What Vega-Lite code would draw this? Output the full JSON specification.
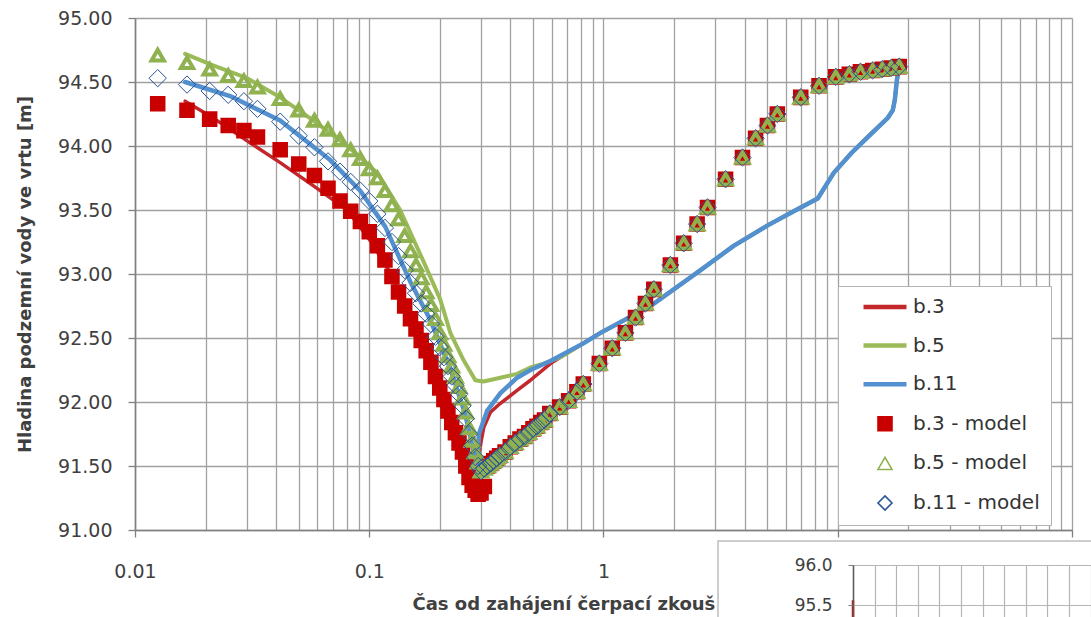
{
"$schema": "https://vega.github.io/schema/vega-lite/v6.json",
"width": 937, "height": 512,
"autosize": {"type": "none"},
"padding": {"left": 135, "top": 18, "right": 19, "bottom": 87},
"background": "white",
"config": {
 "view": {"stroke": null},
 "font": "DejaVu Sans",
 "legend": {"orient": "none", "legendX": 703, "legendY": 268, "padding": 11, "rowPadding": 18.6, "symbolOffset": 26, "labelOffset": 18, "symbolSize": 196, "labelFont": "DejaVu Sans", "labelFontSize": 20, "labelColor": "#333333", "strokeColor": "#b3b3b3", "fillColor": "white", "labelLimit": 300, "cornerRadius": 0}
},
"datasets": {
 "lines": [
  {"s":"b.3","t":0.01637,"v":94.35},{"s":"b.3","t":0.02154,"v":94.22},{"s":"b.3","t":0.03011,"v":94.04},{"s":"b.3","t":0.04166,"v":93.87},{"s":"b.3","t":0.05763,"v":93.69},{"s":"b.3","t":0.08054,"v":93.5},{"s":"b.3","t":0.101,"v":93.26},{"s":"b.3","t":0.1229,"v":93.01},{"s":"b.3","t":0.1425,"v":92.75},{"s":"b.3","t":0.1652,"v":92.51},{"s":"b.3","t":0.2011,"v":92.12},{"s":"b.3","t":0.2331,"v":91.79},{"s":"b.3","t":0.2616,"v":91.47},{"s":"b.3","t":0.2756,"v":91.25},{"s":"b.3","t":0.2867,"v":91.24},{"s":"b.3","t":0.2953,"v":91.62},{"s":"b.3","t":0.308,"v":91.8},{"s":"b.3","t":0.329,"v":91.92},{"s":"b.3","t":0.363,"v":91.99},{"s":"b.3","t":0.4279,"v":92.09},{"s":"b.3","t":0.4875,"v":92.17},{"s":"b.3","t":0.5935,"v":92.3},{"s":"b.3","t":0.6548,"v":92.35},{"s":"b.3","t":0.824,"v":92.46},
  {"s":"b.3","t":0.971,"v":92.54},{"s":"b.3","t":1.588,"v":92.75},{"s":"b.3","t":2.597,"v":93.03},{"s":"b.3","t":3.594,"v":93.22},{"s":"b.3","t":5.022,"v":93.38},{"s":"b.3","t":6.949,"v":93.52},{"s":"b.3","t":8.213,"v":93.59},{"s":"b.3","t":9.614,"v":93.79},{"s":"b.3","t":11.37,"v":93.94},{"s":"b.3","t":13.43,"v":94.07},{"s":"b.3","t":16.36,"v":94.22},{"s":"b.3","t":17.18,"v":94.28},{"s":"b.3","t":17.52,"v":94.36},{"s":"b.3","t":17.87,"v":94.51},{"s":"b.3","t":18.23,"v":94.61},
  {"s":"b.5","t":0.01637,"v":94.72},{"s":"b.5","t":0.02154,"v":94.63},{"s":"b.5","t":0.03011,"v":94.53},{"s":"b.5","t":0.04166,"v":94.38},{"s":"b.5","t":0.05763,"v":94.2},{"s":"b.5","t":0.08054,"v":94.0},{"s":"b.5","t":0.1082,"v":93.79},{"s":"b.5","t":0.1355,"v":93.5},{"s":"b.5","t":0.1702,"v":93.1},{"s":"b.5","t":0.2011,"v":92.8},{"s":"b.5","t":0.2219,"v":92.54},{"s":"b.5","t":0.2522,"v":92.33},{"s":"b.5","t":0.2838,"v":92.17},{"s":"b.5","t":0.3071,"v":92.16},{"s":"b.5","t":0.363,"v":92.19},{"s":"b.5","t":0.4279,"v":92.22},{"s":"b.5","t":0.4875,"v":92.27},{"s":"b.5","t":0.5557,"v":92.3},{"s":"b.5","t":0.6548,"v":92.35},{"s":"b.5","t":0.824,"v":92.46},
  {"s":"b.5","t":0.971,"v":92.54},{"s":"b.5","t":1.588,"v":92.75},{"s":"b.5","t":2.597,"v":93.03},{"s":"b.5","t":3.594,"v":93.22},{"s":"b.5","t":5.022,"v":93.38},{"s":"b.5","t":6.949,"v":93.52},{"s":"b.5","t":8.213,"v":93.59},{"s":"b.5","t":9.614,"v":93.79},{"s":"b.5","t":11.37,"v":93.94},{"s":"b.5","t":13.43,"v":94.07},{"s":"b.5","t":16.36,"v":94.22},{"s":"b.5","t":17.18,"v":94.28},{"s":"b.5","t":17.52,"v":94.36},{"s":"b.5","t":17.87,"v":94.51},{"s":"b.5","t":18.23,"v":94.61},
  {"s":"b.11","t":0.01637,"v":94.5},{"s":"b.11","t":0.02547,"v":94.39},{"s":"b.11","t":0.04166,"v":94.2},{"s":"b.11","t":0.06813,"v":93.89},{"s":"b.11","t":0.09152,"v":93.65},{"s":"b.11","t":0.117,"v":93.37},{"s":"b.11","t":0.1497,"v":92.94},{"s":"b.11","t":0.1823,"v":92.64},{"s":"b.11","t":0.2219,"v":92.26},{"s":"b.11","t":0.2572,"v":91.9},{"s":"b.11","t":0.2782,"v":91.62},{"s":"b.11","t":0.2894,"v":91.47},{"s":"b.11","t":0.2938,"v":91.75},{"s":"b.11","t":0.3184,"v":91.93},{"s":"b.11","t":0.363,"v":92.07},{"s":"b.11","t":0.4279,"v":92.19},{"s":"b.11","t":0.4875,"v":92.25},{"s":"b.11","t":0.5935,"v":92.32},{"s":"b.11","t":0.824,"v":92.46},
  {"s":"b.11","t":0.971,"v":92.54},{"s":"b.11","t":1.588,"v":92.75},{"s":"b.11","t":2.597,"v":93.03},{"s":"b.11","t":3.594,"v":93.22},{"s":"b.11","t":5.022,"v":93.38},{"s":"b.11","t":6.949,"v":93.52},{"s":"b.11","t":8.213,"v":93.59},{"s":"b.11","t":9.614,"v":93.79},{"s":"b.11","t":11.37,"v":93.94},{"s":"b.11","t":13.43,"v":94.07},{"s":"b.11","t":16.36,"v":94.22},{"s":"b.11","t":17.18,"v":94.28},{"s":"b.11","t":17.52,"v":94.36},{"s":"b.11","t":17.87,"v":94.51},{"s":"b.11","t":18.23,"v":94.61}
 ],
 "model": [
  {"s":"b.3 - model","t":0.0125,"v":94.33},{"s":"b.3 - model","t":0.01667,"v":94.28},{"s":"b.3 - model","t":0.02083,"v":94.21},{"s":"b.3 - model","t":0.025,"v":94.16},{"s":"b.3 - model","t":0.02917,"v":94.12},{"s":"b.3 - model","t":0.03333,"v":94.07},{"s":"b.3 - model","t":0.04167,"v":93.97},{"s":"b.3 - model","t":0.05,"v":93.86},{"s":"b.3 - model","t":0.05833,"v":93.77},{"s":"b.3 - model","t":0.06667,"v":93.67},{"s":"b.3 - model","t":0.075,"v":93.57},{"s":"b.3 - model","t":0.08333,"v":93.49},{"s":"b.3 - model","t":0.09167,"v":93.41},{"s":"b.3 - model","t":0.1,"v":93.33},{"s":"b.3 - model","t":0.10833,"v":93.22},{"s":"b.3 - model","t":0.11667,"v":93.11},{"s":"b.3 - model","t":0.125,"v":92.98},{"s":"b.3 - model","t":0.13333,"v":92.86},{"s":"b.3 - model","t":0.14167,"v":92.75},{"s":"b.3 - model","t":0.15,"v":92.65},{"s":"b.3 - model","t":0.15833,"v":92.57},{"s":"b.3 - model","t":0.16667,"v":92.48},{"s":"b.3 - model","t":0.175,"v":92.4},{"s":"b.3 - model","t":0.18333,"v":92.31},{"s":"b.3 - model","t":0.19167,"v":92.2},{"s":"b.3 - model","t":0.2,"v":92.11},{"s":"b.3 - model","t":0.20833,"v":92.02},{"s":"b.3 - model","t":0.21667,"v":91.93},{"s":"b.3 - model","t":0.225,"v":91.84},{"s":"b.3 - model","t":0.23333,"v":91.76},{"s":"b.3 - model","t":0.24167,"v":91.68},{"s":"b.3 - model","t":0.25,"v":91.61},{"s":"b.3 - model","t":0.25833,"v":91.5},{"s":"b.3 - model","t":0.26667,"v":91.41},{"s":"b.3 - model","t":0.275,"v":91.35},{"s":"b.3 - model","t":0.28333,"v":91.31},{"s":"b.3 - model","t":0.29167,"v":91.28},
  {"s":"b.3 - model","t":0.3,"v":91.29},{"s":"b.3 - model","t":0.31,"v":91.34},{"s":"b.3 - model","t":0.32,"v":91.5},{"s":"b.3 - model","t":0.33,"v":91.52},{"s":"b.3 - model","t":0.34,"v":91.54},{"s":"b.3 - model","t":0.35,"v":91.56},{"s":"b.3 - model","t":0.36,"v":91.58},{"s":"b.3 - model","t":0.38,"v":91.61},{"s":"b.3 - model","t":0.4,"v":91.65},{"s":"b.3 - model","t":0.42,"v":91.68},{"s":"b.3 - model","t":0.44,"v":91.71},{"s":"b.3 - model","t":0.46,"v":91.73},{"s":"b.3 - model","t":0.48,"v":91.76},{"s":"b.3 - model","t":0.5,"v":91.79},{"s":"b.3 - model","t":0.52,"v":91.81},{"s":"b.3 - model","t":0.54,"v":91.84},{"s":"b.3 - model","t":0.56,"v":91.86},{"s":"b.3 - model","t":0.59,"v":91.91},{"s":"b.3 - model","t":0.65,"v":91.96},{"s":"b.3 - model","t":0.71,"v":92.01},{"s":"b.3 - model","t":0.77,"v":92.08},{"s":"b.3 - model","t":0.82,"v":92.14},{"s":"b.3 - model","t":0.96,"v":92.3},{"s":"b.3 - model","t":1.09,"v":92.42},{"s":"b.3 - model","t":1.24,"v":92.54},{"s":"b.3 - model","t":1.37,"v":92.66},{"s":"b.3 - model","t":1.51,"v":92.77},{"s":"b.3 - model","t":1.64,"v":92.88},{"s":"b.3 - model","t":1.93,"v":93.07},{"s":"b.3 - model","t":2.2,"v":93.24},{"s":"b.3 - model","t":2.51,"v":93.39},{"s":"b.3 - model","t":2.78,"v":93.52},{"s":"b.3 - model","t":3.32,"v":93.74},{"s":"b.3 - model","t":3.92,"v":93.91},{"s":"b.3 - model","t":4.46,"v":94.06},{"s":"b.3 - model","t":5.01,"v":94.16},{"s":"b.3 - model","t":5.52,"v":94.25},{"s":"b.3 - model","t":6.95,"v":94.38},{"s":"b.3 - model","t":8.32,"v":94.47},{"s":"b.3 - model","t":9.81,"v":94.54},{"s":"b.3 - model","t":11.2,"v":94.56},{"s":"b.3 - model","t":12.5,"v":94.58},{"s":"b.3 - model","t":14.1,"v":94.59},{"s":"b.3 - model","t":15.5,"v":94.6},{"s":"b.3 - model","t":16.9,"v":94.61},{"s":"b.3 - model","t":18.3,"v":94.62},
  {"s":"b.5 - model","t":0.0125,"v":94.71},{"s":"b.5 - model","t":0.01667,"v":94.65},{"s":"b.5 - model","t":0.02083,"v":94.6},{"s":"b.5 - model","t":0.025,"v":94.55},{"s":"b.5 - model","t":0.02917,"v":94.51},{"s":"b.5 - model","t":0.03333,"v":94.46},{"s":"b.5 - model","t":0.04167,"v":94.37},{"s":"b.5 - model","t":0.05,"v":94.28},{"s":"b.5 - model","t":0.05833,"v":94.2},{"s":"b.5 - model","t":0.06667,"v":94.13},{"s":"b.5 - model","t":0.075,"v":94.05},{"s":"b.5 - model","t":0.08333,"v":93.97},{"s":"b.5 - model","t":0.09167,"v":93.9},{"s":"b.5 - model","t":0.1,"v":93.82},{"s":"b.5 - model","t":0.10833,"v":93.75},{"s":"b.5 - model","t":0.11667,"v":93.65},{"s":"b.5 - model","t":0.125,"v":93.54},{"s":"b.5 - model","t":0.13333,"v":93.43},{"s":"b.5 - model","t":0.14167,"v":93.3},{"s":"b.5 - model","t":0.15,"v":93.18},{"s":"b.5 - model","t":0.15833,"v":93.07},{"s":"b.5 - model","t":0.16667,"v":92.97},{"s":"b.5 - model","t":0.175,"v":92.86},{"s":"b.5 - model","t":0.18333,"v":92.76},{"s":"b.5 - model","t":0.19167,"v":92.65},{"s":"b.5 - model","t":0.2,"v":92.54},{"s":"b.5 - model","t":0.20833,"v":92.45},{"s":"b.5 - model","t":0.21667,"v":92.36},{"s":"b.5 - model","t":0.225,"v":92.28},{"s":"b.5 - model","t":0.23333,"v":92.2},{"s":"b.5 - model","t":0.24167,"v":92.12},{"s":"b.5 - model","t":0.25,"v":92.03},{"s":"b.5 - model","t":0.25833,"v":91.92},{"s":"b.5 - model","t":0.26667,"v":91.8},{"s":"b.5 - model","t":0.275,"v":91.7},{"s":"b.5 - model","t":0.28333,"v":91.61},{"s":"b.5 - model","t":0.29167,"v":91.53},
  {"s":"b.5 - model","t":0.3,"v":91.46},{"s":"b.5 - model","t":0.31,"v":91.48},{"s":"b.5 - model","t":0.32,"v":91.5},{"s":"b.5 - model","t":0.33,"v":91.52},{"s":"b.5 - model","t":0.34,"v":91.54},{"s":"b.5 - model","t":0.35,"v":91.56},{"s":"b.5 - model","t":0.36,"v":91.58},{"s":"b.5 - model","t":0.38,"v":91.61},{"s":"b.5 - model","t":0.4,"v":91.65},{"s":"b.5 - model","t":0.42,"v":91.68},{"s":"b.5 - model","t":0.44,"v":91.71},{"s":"b.5 - model","t":0.46,"v":91.73},{"s":"b.5 - model","t":0.48,"v":91.76},{"s":"b.5 - model","t":0.5,"v":91.79},{"s":"b.5 - model","t":0.52,"v":91.81},{"s":"b.5 - model","t":0.54,"v":91.84},{"s":"b.5 - model","t":0.56,"v":91.86},{"s":"b.5 - model","t":0.59,"v":91.91},{"s":"b.5 - model","t":0.65,"v":91.96},{"s":"b.5 - model","t":0.71,"v":92.01},{"s":"b.5 - model","t":0.77,"v":92.08},{"s":"b.5 - model","t":0.82,"v":92.14},{"s":"b.5 - model","t":0.96,"v":92.3},{"s":"b.5 - model","t":1.09,"v":92.42},{"s":"b.5 - model","t":1.24,"v":92.54},{"s":"b.5 - model","t":1.37,"v":92.66},{"s":"b.5 - model","t":1.51,"v":92.77},{"s":"b.5 - model","t":1.64,"v":92.88},{"s":"b.5 - model","t":1.93,"v":93.07},{"s":"b.5 - model","t":2.2,"v":93.24},{"s":"b.5 - model","t":2.51,"v":93.39},{"s":"b.5 - model","t":2.78,"v":93.52},{"s":"b.5 - model","t":3.32,"v":93.74},{"s":"b.5 - model","t":3.92,"v":93.91},{"s":"b.5 - model","t":4.46,"v":94.06},{"s":"b.5 - model","t":5.01,"v":94.16},{"s":"b.5 - model","t":5.52,"v":94.25},{"s":"b.5 - model","t":6.95,"v":94.38},{"s":"b.5 - model","t":8.32,"v":94.47},{"s":"b.5 - model","t":9.81,"v":94.54},{"s":"b.5 - model","t":11.2,"v":94.56},{"s":"b.5 - model","t":12.5,"v":94.58},{"s":"b.5 - model","t":14.1,"v":94.59},{"s":"b.5 - model","t":15.5,"v":94.6},{"s":"b.5 - model","t":16.9,"v":94.61},{"s":"b.5 - model","t":18.3,"v":94.62},
  {"s":"b.11 - model","t":0.0125,"v":94.53},{"s":"b.11 - model","t":0.01667,"v":94.48},{"s":"b.11 - model","t":0.02083,"v":94.43},{"s":"b.11 - model","t":0.025,"v":94.4},{"s":"b.11 - model","t":0.02917,"v":94.35},{"s":"b.11 - model","t":0.03333,"v":94.29},{"s":"b.11 - model","t":0.04167,"v":94.19},{"s":"b.11 - model","t":0.05,"v":94.08},{"s":"b.11 - model","t":0.05833,"v":93.99},{"s":"b.11 - model","t":0.06667,"v":93.88},{"s":"b.11 - model","t":0.075,"v":93.8},{"s":"b.11 - model","t":0.08333,"v":93.72},{"s":"b.11 - model","t":0.09167,"v":93.65},{"s":"b.11 - model","t":0.1,"v":93.57},{"s":"b.11 - model","t":0.10833,"v":93.47},{"s":"b.11 - model","t":0.11667,"v":93.36},{"s":"b.11 - model","t":0.125,"v":93.25},{"s":"b.11 - model","t":0.13333,"v":93.14},{"s":"b.11 - model","t":0.14167,"v":93.03},{"s":"b.11 - model","t":0.15,"v":92.93},{"s":"b.11 - model","t":0.15833,"v":92.85},{"s":"b.11 - model","t":0.16667,"v":92.77},{"s":"b.11 - model","t":0.175,"v":92.69},{"s":"b.11 - model","t":0.18333,"v":92.61},{"s":"b.11 - model","t":0.19167,"v":92.51},{"s":"b.11 - model","t":0.2,"v":92.43},{"s":"b.11 - model","t":0.20833,"v":92.35},{"s":"b.11 - model","t":0.21667,"v":92.28},{"s":"b.11 - model","t":0.225,"v":92.2},{"s":"b.11 - model","t":0.23333,"v":92.13},{"s":"b.11 - model","t":0.24167,"v":92.06},{"s":"b.11 - model","t":0.25,"v":91.97},{"s":"b.11 - model","t":0.25833,"v":91.87},{"s":"b.11 - model","t":0.26667,"v":91.75},{"s":"b.11 - model","t":0.275,"v":91.66},{"s":"b.11 - model","t":0.28333,"v":91.57},{"s":"b.11 - model","t":0.29167,"v":91.5},
  {"s":"b.11 - model","t":0.3,"v":91.46},{"s":"b.11 - model","t":0.31,"v":91.48},{"s":"b.11 - model","t":0.32,"v":91.5},{"s":"b.11 - model","t":0.33,"v":91.52},{"s":"b.11 - model","t":0.34,"v":91.54},{"s":"b.11 - model","t":0.35,"v":91.56},{"s":"b.11 - model","t":0.36,"v":91.58},{"s":"b.11 - model","t":0.38,"v":91.61},{"s":"b.11 - model","t":0.4,"v":91.65},{"s":"b.11 - model","t":0.42,"v":91.68},{"s":"b.11 - model","t":0.44,"v":91.71},{"s":"b.11 - model","t":0.46,"v":91.73},{"s":"b.11 - model","t":0.48,"v":91.76},{"s":"b.11 - model","t":0.5,"v":91.79},{"s":"b.11 - model","t":0.52,"v":91.81},{"s":"b.11 - model","t":0.54,"v":91.84},{"s":"b.11 - model","t":0.56,"v":91.86},{"s":"b.11 - model","t":0.59,"v":91.91},{"s":"b.11 - model","t":0.65,"v":91.96},{"s":"b.11 - model","t":0.71,"v":92.01},{"s":"b.11 - model","t":0.77,"v":92.08},{"s":"b.11 - model","t":0.82,"v":92.14},{"s":"b.11 - model","t":0.96,"v":92.3},{"s":"b.11 - model","t":1.09,"v":92.42},{"s":"b.11 - model","t":1.24,"v":92.54},{"s":"b.11 - model","t":1.37,"v":92.66},{"s":"b.11 - model","t":1.51,"v":92.77},{"s":"b.11 - model","t":1.64,"v":92.88},{"s":"b.11 - model","t":1.93,"v":93.07},{"s":"b.11 - model","t":2.2,"v":93.24},{"s":"b.11 - model","t":2.51,"v":93.39},{"s":"b.11 - model","t":2.78,"v":93.52},{"s":"b.11 - model","t":3.32,"v":93.74},{"s":"b.11 - model","t":3.92,"v":93.91},{"s":"b.11 - model","t":4.46,"v":94.06},{"s":"b.11 - model","t":5.01,"v":94.16},{"s":"b.11 - model","t":5.52,"v":94.25},{"s":"b.11 - model","t":6.95,"v":94.38},{"s":"b.11 - model","t":8.32,"v":94.47},{"s":"b.11 - model","t":9.81,"v":94.54},{"s":"b.11 - model","t":11.2,"v":94.56},{"s":"b.11 - model","t":12.5,"v":94.58},{"s":"b.11 - model","t":14.1,"v":94.59},{"s":"b.11 - model","t":15.5,"v":94.6},{"s":"b.11 - model","t":16.9,"v":94.61},{"s":"b.11 - model","t":18.3,"v":94.62}
 ]
},
"layer": [
 {
  "layer": [
   {
    "data": {"name": "lines"},
    "mark": {"type": "line", "strokeCap": "round", "strokeJoin": "round"},
    "encoding": {
     "x": {"field": "t", "type": "quantitative",
      "scale": {"type": "log", "domain": [0.01, 100], "nice": false},
      "axis": {"orient": "bottom",
       "values": [0.01,0.02,0.03,0.04,0.05,0.06,0.07,0.08,0.09,0.1,0.2,0.3,0.4,0.5,0.6,0.7,0.8,0.9,1,2,3,4,5,6,7,8,9,10,20,30,40,50,60,70,80,90,100],
       "labelExpr": "indexof([0.01,0.1,1], datum.value) >= 0 ? format(datum.value, '~g') : ''",
       "tickOpacity": {"condition": {"test": "indexof([0.01,0.1,1,10,100], datum.value) >= 0", "value": 1}, "value": 0},
       "grid": true, "gridColor": "#a0a0a0", "gridWidth": 1.3,
       "domainColor": "#808080", "domainWidth": 1.6, "tickColor": "#808080", "tickSize": 7, "tickWidth": 1.3,
       "labelFont": "DejaVu Sans", "labelFontSize": 19, "labelColor": "#404040", "labelPadding": 25, "labelBaseline": "top",
       "labelFlush": false, "labelOverlap": false,
       "title": "Čas od zahájení čerpací zkouš", "titleFont": "DejaVu Sans", "titleFontSize": 18, "titleFontWeight": "bold", "titleColor": "#404040",
       "titleX": 277, "titleY": 79, "titleAlign": "left", "titleAnchor": "start", "titleBaseline": "alphabetic"}},
     "y": {"field": "v", "type": "quantitative",
      "scale": {"domain": [91, 95], "nice": false, "zero": false},
      "axis": {"orient": "left", "values": [91,91.5,92,92.5,93,93.5,94,94.5,95], "format": ".2f",
       "grid": true, "gridColor": "#a0a0a0", "gridWidth": 1.3,
       "domainColor": "#808080", "domainWidth": 1.6, "tickColor": "#808080", "tickSize": 7, "tickWidth": 1.3,
       "labelFont": "DejaVu Sans", "labelFontSize": 19, "labelColor": "#404040", "labelPadding": 16,
       "labelFlush": false, "labelOverlap": false,
       "title": "Hladina podzemní vody ve vrtu [m]", "titleFont": "DejaVu Sans", "titleFontSize": 18, "titleFontWeight": "bold", "titleColor": "#404040",
       "titleX": -110, "titleY": 256, "titleAngle": -90, "titleAlign": "center", "titleBaseline": "middle"}},
     "stroke": {"field": "s", "type": "nominal",
      "scale": {"domain": ["b.3","b.5","b.11","b.3 - model","b.5 - model","b.11 - model"], "range": ["#C3262B","#9BBB59","#5390CF","#C80000","#8FB150","#2A5595"]},
      "legend": {"title": null, "symbolType": "circle",
       "encode": {"symbols": {"update": {
        "shape": {"signal": "indexof(['b.3','b.5','b.11'], datum.value) >= 0 ? 'M-3.07,0H3.07' : datum.value == 'b.3 - model' ? 'square' : datum.value == 'b.5 - model' ? 'triangle-up' : 'diamond'"},
        "fill": {"signal": "datum.value == 'b.3 - model' ? '#C80000' : 'transparent'"},
        "strokeWidth": {"signal": "indexof(['b.3','b.5','b.11'], datum.value) >= 0 ? 4.5 : 1.6"},
        "size": {"value": 196},
        "opacity": {"value": 1}
       }}}}},
     "strokeWidth": {"field": "s", "type": "nominal",
      "scale": {"type": "ordinal", "domain": ["b.3","b.5","b.11","b.3 - model","b.5 - model","b.11 - model"], "range": [3.5,4,4.5,1,1.5,2]},
      "legend": null}
    }
   },
   {
    "data": {"name": "model"},
    "mark": {"type": "point", "filled": true, "opacity": 1},
    "encoding": {
     "x": {"field": "t", "type": "quantitative"},
     "y": {"field": "v", "type": "quantitative"},
     "stroke": {"field": "s", "type": "nominal", "legend": null},
     "strokeWidth": {"field": "s", "type": "nominal", "legend": null},
     "size": {"field": "s", "type": "nominal",
      "scale": {"type": "ordinal", "domain": ["b.3 - model","b.5 - model","b.11 - model"], "range": [170, 150, 300]},
      "legend": null},
     "fill": {"field": "s", "type": "nominal",
      "scale": {"domain": ["b.3 - model","b.5 - model","b.11 - model"], "range": ["#C80000","transparent","transparent"]},
      "legend": null},
     "shape": {"field": "s", "type": "nominal",
      "scale": {"domain": ["b.3 - model","b.5 - model","b.11 - model"], "range": ["square","triangle-up","diamond"]},
      "legend": null}
    }
   }
  ]
 },
 {
  "layer": [
   {
    "data": {"values": [{}]},
    "mark": {"type": "rect", "fill": "white", "stroke": "#bdbdbd", "strokeWidth": 1.5},
    "encoding": {
     "x": {"datum": -6.25, "type": "quantitative"},
     "x2": {"datum": 12},
     "y": {"datum": 96.3, "type": "quantitative"},
     "y2": {"datum": 94.4}
    }
   },
   {
    "data": {"values": [{"d": 0, "h": 95.56}, {"d": 0, "h": 94.9}]},
    "mark": {"type": "line", "color": "#D00000", "strokeWidth": 2.5},
    "encoding": {
     "x": {"field": "d", "type": "quantitative",
      "scale": {"domain": [0, 11], "range": [718, 955.6], "nice": false, "zero": false},
      "axis": {"orient": "top", "values": [0,1,2,3,4,5,6,7,8,9,10,11], "grid": true, "gridColor": "#b5b5b5", "gridWidth": 1.2,
       "domain": false, "ticks": false, "labels": false, "title": null, "zindex": 1}},
     "y": {"field": "h", "type": "quantitative",
      "scale": {"domain": [95, 96], "range": [627, 547], "nice": false, "zero": false},
      "axis": {"orient": "left", "offset": -718, "values": [95.5, 96], "format": ".1f",
       "grid": true, "gridColor": "#b5b5b5", "gridWidth": 1.2,
       "domainColor": "#595959", "domainWidth": 1.5, "tickColor": "#808080", "tickSize": 5,
       "labelFont": "DejaVu Sans", "labelFontSize": 17, "labelColor": "#404040", "labelPadding": 16,
       "labelFlush": false, "labelOverlap": false, "title": null, "zindex": 1}}
    }
   }
  ]
 }
],
"resolve": {"scale": {"x": "independent", "y": "independent"}}
}
